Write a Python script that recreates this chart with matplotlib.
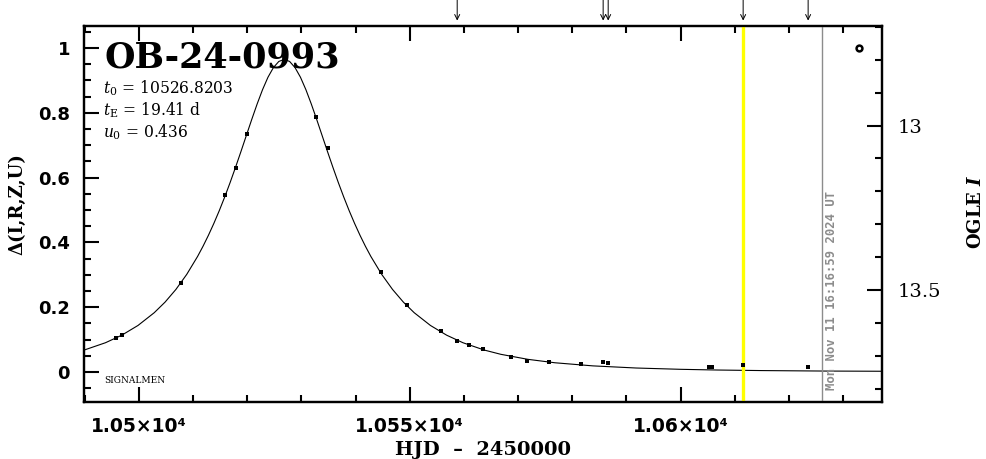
import matplotlib
matplotlib.use('Agg')
import matplotlib.pyplot as plt
from matplotlib.ticker import MultipleLocator, FixedLocator

# ---------------- data ----------------
event_name = "OB-24-0993"
param_lines = [r"$t_0$ = 10526.8203", r"$t_\mathrm{E}$ = 19.41 d", r"$u_0$ = 0.436"]
footer_label = "SIGNALMEN"
now_label = "Mon Nov 11 16:16:59 2024 UT"

obs_hjd = [10495.70, 10496.92, 10507.70, 10515.82, 10517.85, 10519.88, 10532.73,
           10534.89, 10544.77, 10549.47, 10555.75, 10558.76, 10560.86, 10563.50,
           10568.67, 10571.63, 10575.63, 10581.60, 10585.71, 10586.64, 10605.30,
           10605.80, 10611.56, 10623.56]
obs_delta = [0.106, 0.113, 0.276, 0.546, 0.631, 0.734, 0.787,
             0.691, 0.307, 0.208, 0.126, 0.096, 0.083, 0.072,
             0.046, 0.035, 0.032, 0.025, 0.031, 0.029, 0.015,
             0.016, 0.020, 0.015]

model_hjd = [10489.85, 10493.82, 10496.82, 10499.82, 10502.82, 10504.82, 10506.82,
             10508.82, 10510.82, 10511.82, 10512.82, 10513.82, 10514.82, 10515.82,
             10516.82, 10517.82, 10518.82, 10519.82, 10520.82, 10521.82, 10522.82,
             10523.82, 10524.82, 10525.82, 10526.82, 10527.82, 10528.82, 10529.82,
             10530.82, 10531.82, 10532.82, 10533.82, 10534.82, 10535.82, 10536.82,
             10537.82, 10538.82, 10539.82, 10540.82, 10541.82, 10542.82, 10544.82,
             10546.82, 10548.82, 10550.82, 10553.82, 10556.82, 10559.82, 10563.79,
             10566.82, 10571.82, 10576.82, 10583.82, 10591.82, 10600.00, 10606.82,
             10615.00, 10626.82, 10637.20]
model_delta = [0.0673, 0.0901, 0.1133, 0.1434, 0.1828, 0.2155, 0.2546,
               0.3011, 0.3564, 0.3877, 0.4216, 0.4582, 0.4975, 0.5396,
               0.5842, 0.6312, 0.6799, 0.7297, 0.7793, 0.8272, 0.8715,
               0.9098, 0.9395, 0.9585, 0.9650, 0.9585, 0.9395, 0.9098,
               0.8715, 0.8272, 0.7793, 0.7297, 0.6799, 0.6312, 0.5842,
               0.5396, 0.4975, 0.4582, 0.4216, 0.3877, 0.3564, 0.3011,
               0.2546, 0.2155, 0.1828, 0.1434, 0.1133, 0.0901, 0.0673,
               0.0543, 0.0388, 0.0282, 0.0186, 0.0120, 0.0080, 0.0058,
               0.0041, 0.0026, 0.0020]

arrow_hjd = [10558.76, 10585.71, 10586.64, 10611.56, 10623.56]
last_obs_hjd = 10611.56
now_hjd = 10626.18
ref_marker_hjd = 10632.9
ref_marker_delta = 1.0

xticks = [10500, 10550, 10600]
xtick_labels = ["1.05×10⁴", "1.055×10⁴", "1.06×10⁴"]
yticks = [0, 0.2, 0.4, 0.6, 0.8, 1]
ytick_labels = ["0", "0.2", "0.4", "0.6", "0.8", "1"]
mag_ticks = [13, 13.5]
mag_tick_labels = ["13", "13.5"]

# ---------------- figure ----------------
plt.rcParams['mathtext.fontset'] = 'dejavuserif'
W, H = 986, 459
fig = plt.figure(figsize=(W / 100, H / 100), dpi=100)
L, R, T, B = 84, 882, 26, 401.7
ax = fig.add_axes([L / W, 1 - B / H, (R - L) / W, (B - T) / H])

def fx(px):
    return px / W

def fy(py):
    return 1 - py / H

ax.set_xlim(10489.85, 10637.2)
ax.set_ylim(-0.092, 1.068)

ax.plot(model_hjd, model_delta, color='black', lw=0.8, zorder=2)
ax.axvline(last_obs_hjd, color='#ffff00', lw=2.4, zorder=3)
ax.axvline(now_hjd, color='#8c8c8c', lw=1.0, zorder=3)
ax.plot(obs_hjd, obs_delta, 's', color='black', ms=2.4, mew=0, zorder=4)
ax.plot([ref_marker_hjd], [ref_marker_delta], 'o', ms=4.2, mfc='white',
        mec='black', mew=1.8, zorder=4)

for spine in ax.spines.values():
    spine.set_linewidth(1.6)

ax.xaxis.set_major_locator(FixedLocator(xticks))
ax.set_xticklabels(xtick_labels, fontfamily='DejaVu Sans', fontweight='bold', fontsize=13.5)
ax.xaxis.set_minor_locator(MultipleLocator(10))
ax.yaxis.set_major_locator(FixedLocator(yticks))
ax.set_yticklabels(ytick_labels, fontfamily='DejaVu Sans', fontweight='bold', fontsize=13)
ax.yaxis.set_minor_locator(MultipleLocator(0.05))
ax.tick_params(which='major', direction='in', length=10.8, width=1.5, top=True,
               right=False, pad=10)
ax.tick_params(which='minor', direction='in', length=5.2, width=1.5, top=True, right=False)
ax.tick_params(axis='x', which='major', pad=11)

ax2 = ax.twinx()
ax2.set_ylim(13.840, 12.697)
ax2.yaxis.set_major_locator(FixedLocator(mag_ticks))
ax2.set_yticklabels(mag_tick_labels, fontfamily='DejaVu Serif', fontsize=14)
ax2.yaxis.set_minor_locator(MultipleLocator(0.1))
ax2.tick_params(which='major', direction='in', length=10.8, width=1.5, pad=11)
ax2.tick_params(which='minor', direction='in', length=5.2, width=1.5)
for spine in ax2.spines.values():
    spine.set_linewidth(1.6)

# arrows above the frame
for t in arrow_hjd:
    ax.annotate('', xy=(t, 1.0144), xytext=(t, 1.075), xycoords=ax.get_xaxis_transform(),
                textcoords=ax.get_xaxis_transform(), annotation_clip=False,
                arrowprops=dict(arrowstyle='->', lw=0.7, color='black',
                                shrinkA=0, shrinkB=0, mutation_scale=9))

# texts
fig.text(fx(104), fy(68), event_name, fontfamily='DejaVu Serif', fontweight='bold',
         fontsize=25.2, va='baseline', ha='left')
for i, line in enumerate(param_lines):
    fig.text(fx(103), fy(93.3 + 22 * i), line, fontfamily='DejaVu Serif',
             fontsize=11.2, va='baseline', ha='left')
fig.text(fx(104), fy(383), footer_label, fontfamily='DejaVu Serif', fontsize=6.5,
         va='baseline', ha='left')
fig.text(fx(825), fy(390), now_label, fontfamily='DejaVu Sans Mono', fontweight='bold',
         fontsize=8.8, color='#8c8c8c', rotation=90, ha='left', va='bottom')

fig.text(fx(483), fy(450), "HJD  –  2450000", fontfamily='DejaVu Serif',
         fontweight='bold', fontsize=14, ha='center', va='center')
fig.text(fx(17), fy(204), "Δ(I,R,Z,U)", fontfamily='DejaVu Serif', fontweight='bold',
         fontsize=13, rotation=90, ha='center', va='center')
fig.text(fx(976), fy(212), r"OGLE $\mathbfit{I}$", fontfamily='DejaVu Serif',
         fontweight='bold', fontsize=13, rotation=90, ha='center', va='center')

fig.savefig('out.png', dpi=100)
